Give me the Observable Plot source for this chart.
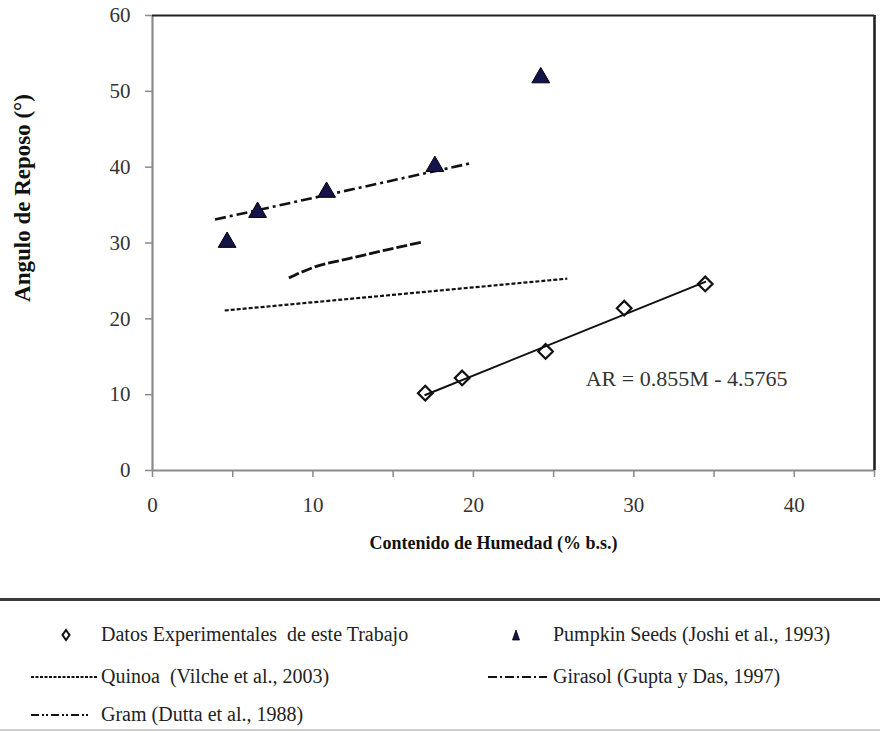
<!DOCTYPE html>
<html><head><meta charset="utf-8">
<script src="https://cdn.jsdelivr.net/npm/d3@7"></script>
<script src="https://cdn.jsdelivr.net/npm/@observablehq/plot@0.6"></script>
<style>
body{margin:0;background:#fff;font-family:"Liberation Serif","DejaVu Serif",serif;}
#wrap{position:relative;width:880px;height:732px;overflow:hidden;background:#fff;}
#chart{position:absolute;left:0;top:0;}
.lg{position:absolute;font-size:20px;color:#222;white-space:pre;line-height:1;font-family:"Liberation Serif","DejaVu Serif",serif;}
.sw{position:absolute;}
.hr{position:absolute;left:0;width:880px;}
</style></head><body>
<div id="wrap"><div id="chart"></div></div>
<script>
// ---- data ----
const expX = [17.0, 19.3, 24.5, 29.4, 34.45];
const expY = [10.2, 12.2, 15.7, 21.4, 24.6];
const pumpX = [4.65, 6.55, 10.85, 17.6, 24.2];
const pumpY = [30.1, 34.05, 36.7, 40.1, 51.8];
const fitX = [17.0, 34.45];
const fitY = [9.96, 24.88];
const quinoaX = [4.5, 25.85];
const quinoaY = [21.1, 25.3];
const girasolX = [3.9, 19.8];
const girasolY = [33.1, 40.5];
const gramX = [8.5, 10.05, 12.35, 14.6, 16.75];
const gramY = [25.4, 26.8, 28.0, 29.1, 30.1];
const xTicks = [0, 5, 10, 15, 20, 25, 30, 35, 40, 45];
const xTickLabels = [0, 10, 20, 30, 40];
const yTicks = [0, 10, 20, 30, 40, 50, 60];
const equation = ["AR = 0.855M - 4.5765"];
const eqX = [27.0];
const eqY = [12.1];
const xLabel = "Contenido de Humedad (% b.s.)";
const yLabel = "Angulo de Reposo (°)";
const legendLabels = [
  "Datos Experimentales  de este Trabajo",
  "Pumpkin Seeds (Joshi et al., 1993)",
  "Quinoa  (Vilche et al., 2003)",
  "Girasol (Gupta y Das, 1997)",
  "Gram (Dutta et al., 1988)"
];

const pts = (xs, ys) => xs.map((x, i) => ({x, y: ys[i]}));
const font = "'Liberation Serif', 'DejaVu Serif', serif";
const ink = "#111";
const axisGray = "#8a8a8a";

const plot = Plot.plot({
  width: 880, height: 590,
  marginLeft: 152, marginRight: 6, marginTop: 15, marginBottom: 120,
  style: {fontFamily: font, fontSize: "18px", color: "#333", background: "#fff", overflow: "visible"},
  x: {domain: [0, 45]},
  y: {domain: [0, 60]},
  marks: [
    Plot.axisY({ticks: yTicks, tickSize: 7, tickPadding: 15, stroke: axisGray, strokeWidth: 1.5, label: null, fill: "#333", fontSize: 21}),
    Plot.axisX({ticks: xTicks, tickFormat: d => xTickLabels.includes(d) ? String(d) : "", tickSize: 7, tickPadding: 20, stroke: axisGray, strokeWidth: 1.5, label: null, fill: "#333", fontSize: 21}),
    Plot.ruleX([0], {stroke: axisGray, strokeWidth: 2.2}),
    Plot.ruleY([0], {stroke: axisGray, strokeWidth: 2.2}),
    Plot.ruleY([60], {stroke: "#222", strokeWidth: 2.2}),
    Plot.ruleX([45], {stroke: "#222", strokeWidth: 2.6}),
    Plot.line(pts(quinoaX, quinoaY), {x: "x", y: "y", stroke: ink, strokeWidth: 2.2, strokeDasharray: "4,2", strokeLinecap: "butt"}),
    Plot.line(pts(girasolX, girasolY), {x: "x", y: "y", stroke: ink, strokeWidth: 2.6, strokeDasharray: "11,4,3,4", strokeLinecap: "butt"}),
    Plot.line(pts(gramX, gramY), {x: "x", y: "y", stroke: ink, strokeWidth: 2.8, strokeDasharray: "11,3", strokeLinecap: "butt", curve: "monotone-x"}),
    Plot.line(pts(fitX, fitY), {x: "x", y: "y", stroke: ink, strokeWidth: 2}),
    Plot.dot(pts(expX, expY), {x: "x", y: "y", symbol: "diamond2", r: 6.6, stroke: ink, strokeWidth: 2.2, fill: "none"}),
    Plot.dot(pts(pumpX, pumpY), {x: "x", y: "y", symbol: "triangle", r: 6.6, stroke: "#000", strokeWidth: 1, fill: "#14144a"}),
    Plot.text(equation, {x: () => eqX[0], y: () => eqY[0], text: d => d, textAnchor: "start", fontSize: 22, fill: "#333", fontFamily: font}),
    Plot.text([xLabel], {frameAnchor: "bottom", text: d => d, textAnchor: "middle", dy: 78, dx: -20, fontSize: 18, fontWeight: "bold", fill: "#111", fontFamily: font}),
    Plot.text([yLabel], {frameAnchor: "left", text: d => d, textAnchor: "middle", rotate: -90, dx: -130, dy: -45, fontSize: 23, fontWeight: "bold", fill: "#111", fontFamily: font})
  ]
});
document.getElementById("chart").appendChild(plot);

// ---- legend (HTML below the SVG) ----
const wrap = document.getElementById("wrap");
function add(el){ wrap.appendChild(el); return el; }
function div(cls, css, txt){ const d = document.createElement("div"); d.className = cls; Object.assign(d.style, css); if (txt != null) d.textContent = txt; return d; }
add(div("hr", {top: "598px", height: "3px", background: "#3a3a3a"}));
add(div("hr", {top: "729px", height: "2px", background: "#cfcfcf"}));

const rows = [635, 677, 715];
const textX = [101, 553];
function swatch(kind, cx, cy, w){
  const ns = "http://www.w3.org/2000/svg";
  const svg = document.createElementNS(ns, "svg");
  const W = w || 16, Hh = 16;
  svg.setAttribute("width", W); svg.setAttribute("height", Hh);
  svg.setAttribute("class", "sw");
  svg.style.left = (cx - W / 2) + "px"; svg.style.top = (cy - Hh / 2) + "px";
  let el;
  if (kind === "diamond") {
    el = document.createElementNS(ns, "path");
    el.setAttribute("d", `M${W/2},3 L${W/2+3.5},8 L${W/2},13 L${W/2-3.5},8Z`);
    el.setAttribute("fill", "none"); el.setAttribute("stroke", "#111"); el.setAttribute("stroke-width", "2");
  } else if (kind === "triangle") {
    el = document.createElementNS(ns, "path");
    el.setAttribute("d", `M${W/2},3 L${W/2+3.5},13 L${W/2-3.5},13Z`);
    el.setAttribute("fill", "#14144a"); el.setAttribute("stroke", "#000"); el.setAttribute("stroke-width", "0.8");
  } else {
    el = document.createElementNS(ns, "line");
    el.setAttribute("x1", 0); el.setAttribute("x2", W); el.setAttribute("y1", 8); el.setAttribute("y2", 8);
    el.setAttribute("stroke", "#111"); el.setAttribute("stroke-width", "2");
    el.setAttribute("stroke-dasharray", kind);
  }
  svg.appendChild(el);
  wrap.appendChild(svg);
}
const items = [
  {label: legendLabels[0], col: 0, row: 0, sw: "diamond", cx: 66},
  {label: legendLabels[1], col: 1, row: 0, sw: "triangle", cx: 516},
  {label: legendLabels[2], col: 0, row: 1, sw: "3,1.5", cx: 64, w: 67},
  {label: legendLabels[3], col: 1, row: 1, sw: "9,3,2,3", cx: 517, w: 59},
  {label: legendLabels[4], col: 0, row: 2, sw: "8,3,2,2,2,3", cx: 60, w: 59}
];
items.forEach(it => {
  swatch(it.sw, it.cx, rows[it.row], it.w);
  add(div("lg", {left: textX[it.col] + "px", top: (rows[it.row] - 11) + "px"}, it.label));
});
</script>
</body></html>
